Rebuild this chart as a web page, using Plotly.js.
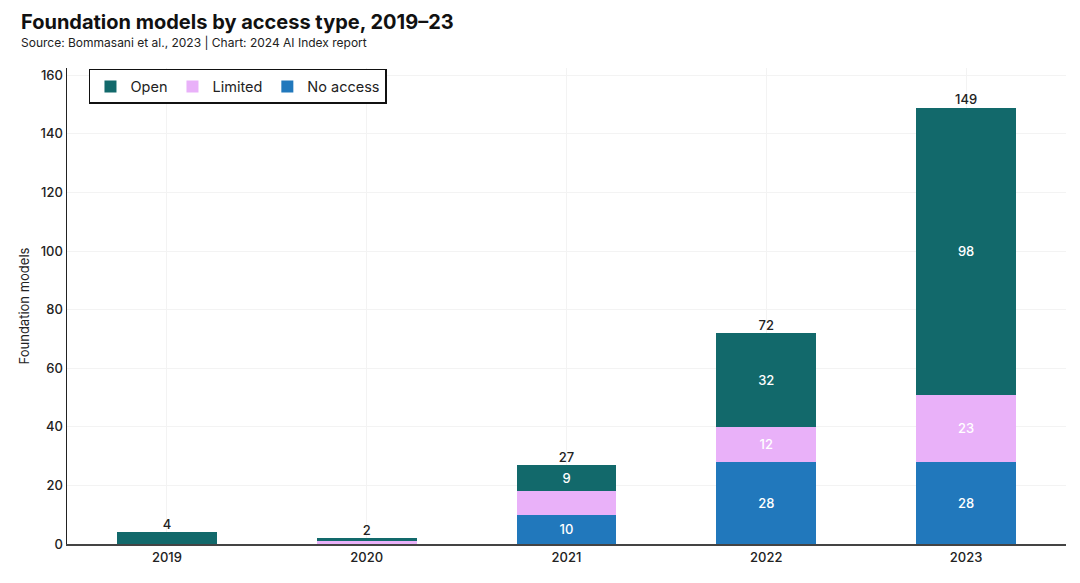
<!DOCTYPE html>
<html>
<head>
<meta charset="utf-8">
<script src="https://cdn.plot.ly/plotly-3.0.1.min.js"></script>
<style>
  html, body { margin: 0; padding: 0; background: #fff; }
  #chart { width: 1080px; height: 583px; }
</style>
</head>
<body>
<div id="chart"></div>
<script>
const years = ["2019", "2020", "2021", "2022", "2023"];
const noAccess = [0, 0, 10, 28, 28];
const limited = [0, 1, 8, 12, 23];
const open = [4, 1, 9, 32, 98];
const totals = [4, 2, 27, 72, 149];

const labelMin = 9;
const segText = arr => arr.map(v => (v >= labelMin ? String(v) : ""));

const FONT = "Inter, 'Noto Sans', sans-serif";
const segFont = { family: FONT, size: 13, color: "#ffffff", weight: 500 };

const traces = [
  {
    type: "bar", name: "No access", x: years, y: noAccess,
    marker: { color: "#2178BC" },
    text: segText(noAccess), textposition: "inside", insidetextanchor: "middle",
    textfont: segFont, hoverinfo: "y"
  },
  {
    type: "bar", name: "Limited", x: years, y: limited,
    marker: { color: "#E9B1F9" },
    text: segText(limited), textposition: "inside", insidetextanchor: "middle",
    textfont: segFont, hoverinfo: "y"
  },
  {
    type: "bar", name: "Open", x: years, y: open,
    marker: { color: "#12696B" },
    text: segText(open), textposition: "inside", insidetextanchor: "middle",
    textfont: segFont, hoverinfo: "y"
  },
  {
    type: "scatter", mode: "text", x: years, y: totals,
    text: totals.map(String), textposition: "top center",
    textfont: { family: FONT, size: 13, color: "#222", weight: 500 },
    showlegend: false, hoverinfo: "skip", cliponaxis: false
  }
];

const layout = {
  width: 1080, height: 583,
  margin: { l: 67, r: 14, t: 68, b: 39 },
  paper_bgcolor: "#ffffff", plot_bgcolor: "#ffffff",
  barmode: "stack", bargap: 0.5,
  font: { family: FONT, color: "#222" },
  xaxis: {
    type: "category", range: [-0.5, 4.5],
    showline: true, linecolor: "#444", linewidth: 2,
    showgrid: true, gridcolor: "#f3f3f3", gridwidth: 1,
    ticks: "", tickfont: { family: FONT, size: 13, color: "#222", weight: 500 },
    zeroline: false
  },
  yaxis: {
    range: [0, 162.5], dtick: 20,
    showline: true, linecolor: "#222", linewidth: 1.5,
    showgrid: true, gridcolor: "#f3f3f3", gridwidth: 1,
    ticks: "", tickfont: { family: FONT, size: 13, color: "#222", weight: 500 },
    zeroline: false,
    title: { text: "Foundation models", font: { family: FONT, size: 13, color: "#222" }, standoff: 8 }
  },
  legend: {
    orientation: "h", traceorder: "reversed",
    x: 0.022, y: 0.998, xanchor: "left", yanchor: "top",
    bordercolor: "#111", borderwidth: 1.5, bgcolor: "#ffffff",
    font: { family: FONT, size: 14.5, color: "#222" },
    itemwidth: 30
  },
  annotations: [
    {
      text: "<b>Foundation models by access type, 2019–23</b>",
      xref: "paper", yref: "paper", x: 0, y: 1,
      xanchor: "left", yanchor: "bottom",
      xshift: -48, yshift: 32, showarrow: false,
      font: { family: FONT, size: 20, color: "#111" }
    },
    {
      text: "Source: Bommasani et al., 2023 | Chart: 2024 AI Index report",
      xref: "paper", yref: "paper", x: 0, y: 1,
      xanchor: "left", yanchor: "bottom",
      xshift: -48, yshift: 16, showarrow: false,
      font: { family: FONT, size: 12, color: "#222" }
    }
  ],
  showlegend: true
};

Plotly.newPlot("chart", traces, layout, { displayModeBar: false, staticPlot: true });
</script>
</body>
</html>
